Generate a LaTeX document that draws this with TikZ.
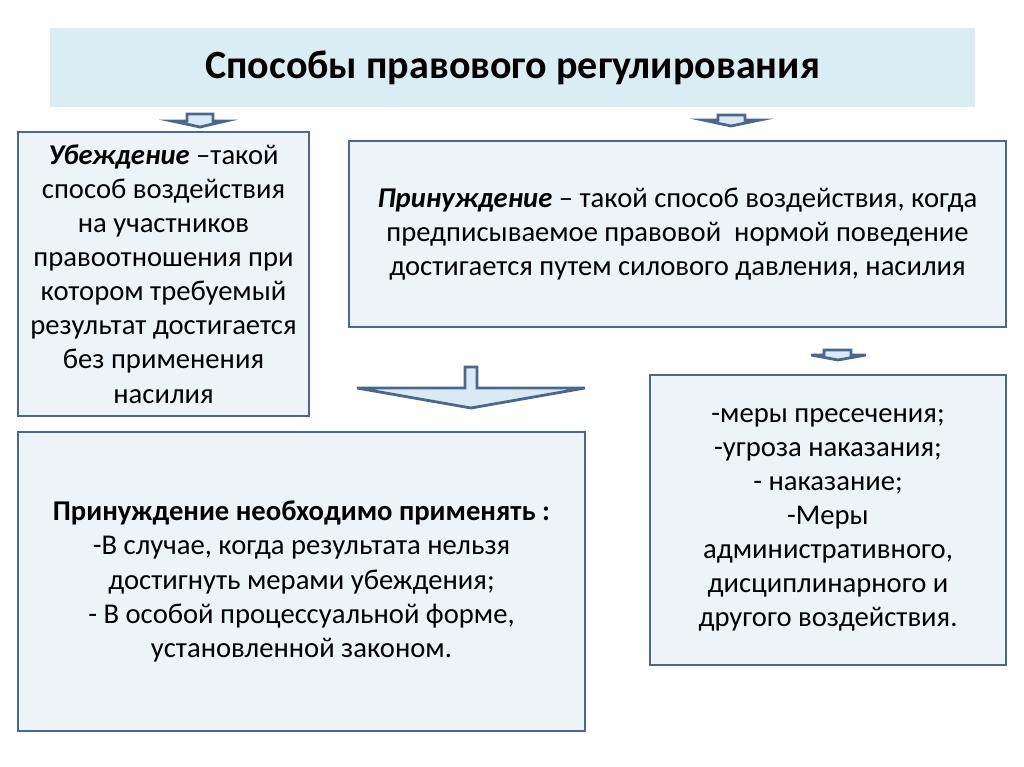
\documentclass[tikz,border=0pt]{standalone}
\usepackage{fontspec}
\setmainfont{Carlito}

\definecolor{frameblue}{RGB}{74,103,143}
\definecolor{boxfill}{RGB}{236,244,248}
\definecolor{titlefill}{RGB}{219,237,244}
\definecolor{arrowfill}{RGB}{218,234,244}

\begin{document}
\begin{tikzpicture}[x=0.02cm, y=-0.02cm,
      titlebox/.style={rectangle, fill=titlefill, minimum width=18.5cm,
        minimum height=1.58cm, font=\fontsize{22.8}{27}\selectfont\bfseries},
      textbox/.style={rectangle, draw=frameblue, fill=boxfill, line width=1.6pt,
        align=center, font=\fontsize{16.3}{19.4}\selectfont},
      pointer/.style={draw=frameblue, fill=arrowfill, line width=1.6pt}]

    \useasboundingbox (0,0) rectangle (1024,767);

    \node[titlebox] (title) at (512.5,67.5) {Способы правового регулирования};

    \node[textbox, minimum width=5.82cm, minimum height=5.68cm] (ubezh) at (163.5,274)
      {\textbf{\textit{Убеждение}} –такой\\способ воздействия\\на участников\\правоотношения при\\котором требуемый\\результат достигается\\без применения\\насилия};

    \node[textbox, minimum width=13.14cm, minimum height=3.72cm] (prinuzh) at (677.5,234)
      {\textbf{\textit{Принуждение}} – такой способ воздействия, когда\\предписываемое правовой~ нормой поведение\\достигается путем силового давления, насилия};

    \node[textbox, minimum width=11.34cm, minimum height=5.98cm] (neobh) at (301.5,581.5)
      {\textbf{Принуждение необходимо применять :}\\-В случае, когда результата нельзя\\достигнуть мерами убеждения;\\- В особой процессуальной форме,\\установленной законом.};

    \node[textbox, minimum width=7.12cm, minimum height=5.8cm] (mery) at (828,520)
      {-меры пресечения;\\-угроза наказания;\\- наказание;\\-Меры\\административного,\\дисциплинарного и\\другого воздействия.};

    % block arrows
    \draw[pointer] (172,121) -- (187,121) -- (187,114) -- (213,114) -- (213,121)
      -- (226,121) -- (200,127) -- cycle;
    \draw[pointer] (703,120) -- (718,120) -- (718,115) -- (745,115) -- (745,120)
      -- (760,120) -- (731,126) -- cycle;
    \draw[pointer] (811,355) -- (824,355) -- (824,350) -- (851,350) -- (851,355)
      -- (866,355) -- (838,360) -- cycle;
    \draw[pointer] (357,388) -- (465,388) -- (465,367) -- (477,367) -- (477,388)
      -- (585,388) -- (471,408) -- cycle;

  \end{tikzpicture}
\end{document}
